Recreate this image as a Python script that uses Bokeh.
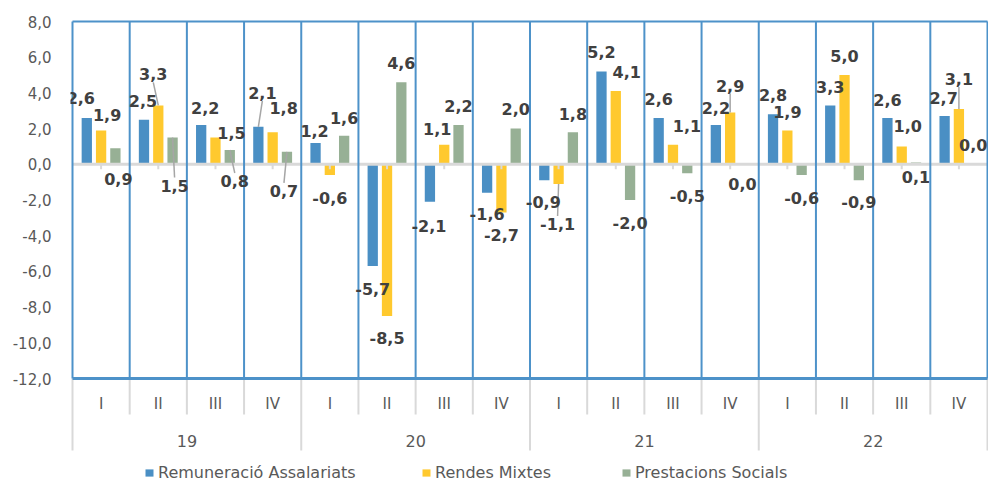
import numpy as np
from bokeh.plotting import figure
from bokeh.models import (ColumnDataSource, FixedTicker, CustomJSTickFormatter,
                          Legend, LegendItem, Range1d)
from bokeh.core.properties import value
from bokeh.embed import file_html
from bokeh.resources import INLINE

# ---------------- data ----------------
years = ["19", "20", "21", "22"]
quarters = ["I", "II", "III", "IV"]
series_names = ["Remuneració Assalariats", "Rendes Mixtes", "Prestacions Socials"]
remuneracio = [2.6, 2.5, 2.2, 2.1, 1.2, -5.7, -2.1, -1.6, -0.9, 5.2, 2.6, 2.2, 2.8, 3.3, 2.6, 2.7]
rendes = [1.9, 3.3, 1.5, 1.8, -0.6, -8.5, 1.1, -2.7, -1.1, 4.1, 1.1, 2.9, 1.9, 5.0, 1.0, 3.1]
prestacions = [0.9, 1.5, 0.8, 0.7, 1.6, 4.6, 2.2, 2.0, 1.8, -2.0, -0.5, 0.0, -0.6, -0.9, 0.1, 0.0]
y_ticks = [-12, -10, -8, -6, -4, -2, 0, 2, 4, 6, 8]

# ---------------- styles ----------------
colors = ["#4a8fc4", "#ffc92e", "#97b095"]
frame_blue = "#4d92c9"
sep_gray = "#d9d9d9"
text_gray = "#595959"
label_dark = "#404040"
bar_offsets = [-0.25, 0.0, 0.25]
bar_width = 0.18
# label offsets in screen px (dx, dy: dy positive = down) relative to bar end
label_dx = [
    [-6, -1, 4, 4, -1, 0, -1, 0, -1, 0, 0, 0, 0, 0, 0, -1],
    [6, -5, 16, 11, 0, 0, -7, 0, -1, 11, 14, 0, 0, 0, 6, 0],
    [3, 2, 5, -3, 0, 0, 0, 0, 0, 0, 0, -2, 0, 0, 0, 0],
]
label_dy = [
    [-20, -19, -17, -34, -12, 23, 24, 21, 22, -19, -19, -17, -19, -18, -18, -18],
    [-15, -31, -5, -24, 23, 22, -16, 23, 40, -19, -19, -27, -18, -19, -20, -30],
    [31, 48, 31, 39, -18, -19, -19, -20, -18, 23, 23, 20, 23, 22, 14, -19],
]
leader = [
    [0, 0, 0, 1, 0, 0, 0, 0, 0, 0, 0, 0, 0, 0, 0, 0],
    [0, 1, 0, 0, 0, 0, 0, 0, 1, 0, 0, 1, 0, 0, 0, 1],
    [0, 1, 1, 1, 0, 0, 0, 0, 0, 0, 0, 0, 0, 0, 0, 0],
]

FONT = "DejaVu Sans"
W, H = 988, 483
PPX = 57.1875  # px per category
PPU = 17.85    # px per y unit
LEFT = 70
TOP = 18

x_start = -2 / PPX
x_end = x_start + (W - LEFT) / PPX
y_end = 8 + 3 / PPU
y_start = y_end - (H - TOP) / PPU

p = figure(width=W, height=H, output_backend="svg", toolbar_location=None,
           x_range=Range1d(x_start, x_end), y_range=Range1d(y_start, y_end),
           x_axis_location=None, min_border_left=LEFT, min_border_right=0,
           min_border_top=TOP, min_border_bottom=0)
p.outline_line_color = None
p.xgrid.visible = False
p.ygrid.visible = False
p.background_fill_color = "white"

n = len(remuneracio)
centers = np.arange(n) + 0.5
all_series = [remuneracio, rendes, prestacions]

renderers = []
for k, vals in enumerate(all_series):
    src = ColumnDataSource(dict(x=centers + bar_offsets[k], top=vals))
    r = p.vbar(x="x", top="top", bottom=0, width=bar_width, source=src,
               fill_color=colors[k], line_color=None)
    renderers.append(r)

# zero line and ticks
p.segment(x0=[0], y0=[0], x1=[n], y1=[0], line_color=sep_gray, line_width=3)
p.segment(x0=centers, y0=[0] * n, x1=centers, y1=[-5 / PPU] * n,
          line_color=sep_gray, line_width=2)

# category separators below the plot
bounds = np.arange(n + 1)
qsep = [b for b in bounds if b % 4 != 0]
ysep = [b for b in bounds if b % 4 == 0]
ymin = y_ticks[0]
p.segment(x0=qsep, y0=[ymin] * len(qsep), x1=qsep, y1=[ymin - 36 / PPU] * len(qsep),
          line_color=sep_gray, line_width=2)
p.segment(x0=ysep, y0=[ymin] * len(ysep), x1=ysep, y1=[ymin - 72 / PPU] * len(ysep),
          line_color=sep_gray, line_width=2)

# blue plot-area lines
ymax = y_ticks[-1]
p.segment(x0=bounds, y0=[ymin] * (n + 1), x1=bounds, y1=[ymax] * (n + 1),
          line_color=frame_blue, line_width=2)
p.segment(x0=[0], y0=[ymax], x1=[n], y1=[ymax], line_color=frame_blue, line_width=2)
p.segment(x0=[0], y0=[ymin], x1=[n], y1=[ymin], line_color=frame_blue, line_width=3)

# leader lines
lx0, ly0, lx1, ly1 = [], [], [], []
for k, vals in enumerate(all_series):
    for i, v in enumerate(vals):
        if leader[k][i]:
            bx = centers[i] + bar_offsets[k]
            dy = label_dy[k][i]
            end_dy = dy - 8 if dy > 0 else dy + 8
            lx0.append(bx)
            ly0.append(v)
            lx1.append(bx + label_dx[k][i] / PPX)
            ly1.append(v - end_dy / PPU)
p.segment(x0=lx0, y0=ly0, x1=lx1, y1=ly1, line_color="#a6a6a6", line_width=1.5)

# data labels
for k, vals in enumerate(all_series):
    src = ColumnDataSource(dict(
        x=centers + bar_offsets[k], y=vals,
        t=[f"{v:.1f}".replace(".", ",") for v in vals],
        dx=label_dx[k], dy=label_dy[k]))
    p.text(x="x", y="y", text="t", x_offset="dx", y_offset="dy", source=src,
           text_font=value(FONT), text_font_style="bold", text_font_size=value("16px"),
           text_color=label_dark, text_align="center", text_baseline="middle")

# category labels
q_labels = [quarters[i % 4] for i in range(n)]
p.text(x=centers, y=[ymin - 25 / PPU] * n, text=q_labels,
       text_font=value(FONT), text_font_size=value("15px"), text_color=text_gray,
       text_align="center", text_baseline="middle")
year_x = [4 * j + 2 for j in range(len(years))]
p.text(x=year_x, y=[ymin - 62 / PPU] * len(years), text=years,
       text_font=value(FONT), text_font_size=value("16px"), text_color=text_gray,
       text_align="center", text_baseline="middle")

# y axis
p.yaxis.ticker = FixedTicker(ticks=y_ticks)
p.yaxis.formatter = CustomJSTickFormatter(code="return tick.toFixed(1).replace('.', ',');")
p.yaxis.axis_line_color = None
p.yaxis.major_tick_line_color = None
p.yaxis.minor_tick_line_color = None
p.yaxis.major_tick_out = 0
p.yaxis.major_tick_in = 0
p.yaxis.major_label_standoff = 19
p.yaxis.major_label_text_font = FONT
p.yaxis.major_label_text_font_size = "15px"
p.yaxis.major_label_text_color = text_gray

# legends
legend_x = [74, 351, 551]
for k in range(3):
    leg = Legend(items=[LegendItem(label=series_names[k], renderers=[renderers[k]])],
                 location=(legend_x[k], 1), padding=0, margin=0,
                 border_line_color=None, background_fill_alpha=0,
                 glyph_width=10, glyph_height=9, label_standoff=4,
                 label_text_font=FONT, label_text_font_size="16px",
                 label_text_color=text_gray, label_height=16)
    p.add_layout(leg)

open("out.html", "w").write(file_html(p, INLINE))
